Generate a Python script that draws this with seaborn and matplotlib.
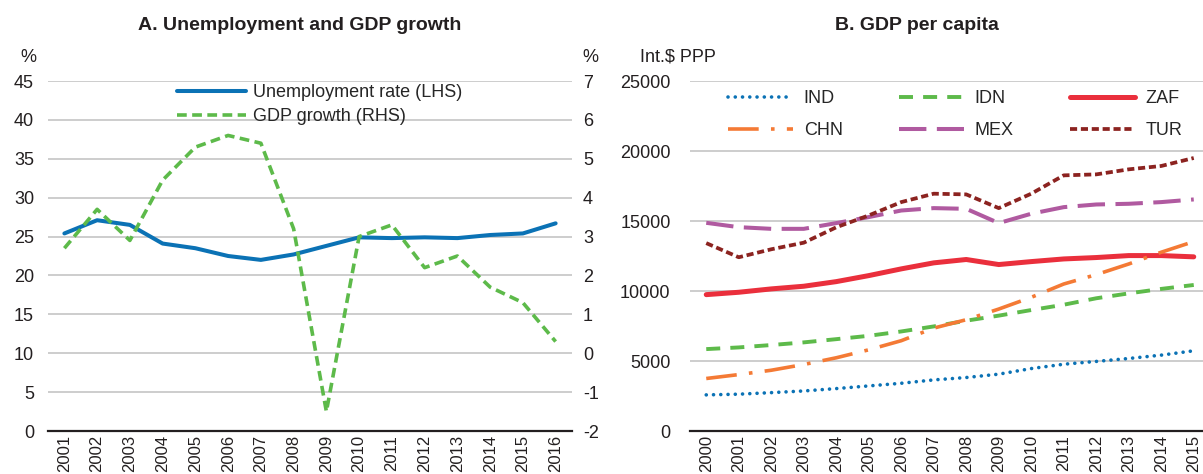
import numpy as np
import pandas as pd
import matplotlib
matplotlib.use("Agg")
import matplotlib.pyplot as plt
from matplotlib import font_manager
import seaborn as sns

# ---------------- data ----------------
years_a = [2001, 2002, 2003, 2004, 2005, 2006, 2007, 2008,
           2009, 2010, 2011, 2012, 2013, 2014, 2015, 2016]
unemployment = [25.4, 27.1, 26.5, 24.1, 23.5, 22.5, 22.0, 22.7,
                23.8, 24.9, 24.8, 24.9, 24.8, 25.2, 25.4, 26.7]
gdp_growth = [2.7, 3.7, 2.9, 4.45, 5.3, 5.6, 5.4, 3.2,
              -1.5, 3.0, 3.3, 2.2, 2.5, 1.7, 1.3, 0.3]

years_b = [2000, 2001, 2002, 2003, 2004, 2005, 2006, 2007,
           2008, 2009, 2010, 2011, 2012, 2013, 2014, 2015]
ind = [2580, 2630, 2740, 2860, 3030, 3220, 3410, 3650,
       3820, 4060, 4460, 4770, 4970, 5180, 5420, 5730]
idn = [5850, 5970, 6140, 6330, 6560, 6800, 7110, 7470,
       7880, 8240, 8640, 9020, 9480, 9830, 10150, 10430]
zaf = [9740, 9910, 10150, 10340, 10670, 11100, 11580, 12010,
       12250, 11890, 12100, 12290, 12390, 12530, 12530, 12440]
chn = [3750, 4030, 4340, 4750, 5230, 5800, 6450, 7350,
       7950, 8710, 9550, 10500, 11170, 11930, 12770, 13530]
mex = [14870, 14560, 14440, 14440, 14850, 15280, 15750, 15920,
       15870, 14850, 15520, 15990, 16180, 16230, 16350, 16540]
tur = [13420, 12410, 12980, 13450, 14550, 15400, 16350, 16950,
       16900, 15920, 16950, 18260, 18330, 18690, 18930, 19500]

labels_a = ["Unemployment rate (LHS)", "GDP growth (RHS)"]
countries = ["IND", "IDN", "ZAF", "CHN", "MEX", "TUR"]

# ---------------- style ----------------
sns.set_style("white")
avail = {f.name for f in font_manager.fontManager.ttflist}
family = [f for f in ["Liberation Sans Narrow", "Liberation Sans", "DejaVu Sans"] if f in avail]
plt.rcParams["font.family"] = family
plt.rcParams["axes.unicode_minus"] = False
FS = 13
TXT = "#231f20"
GRID = "#c9c9c9"

W, H = 1203, 474
fig = plt.figure(figsize=(W / 100, H / 100), dpi=100)


def rect(l, r, t, b):
    return [l / W, 1 - b / H, (r - l) / W, (b - t) / H]


def style_xaxis(ax, years):
    ax.set_xlim(years[0] - 0.5, years[-1] + 0.5)
    ax.set_xticks(years)
    ax.set_xticklabels([str(y) for y in years], rotation=90, fontsize=12, color=TXT)
    ax.set_xticks([y + 0.5 for y in years[:-1]] + [years[0] - 0.5], minor=True)
    ax.tick_params(axis="x", which="major", length=0, pad=3)
    ax.tick_params(axis="x", which="minor", direction="in", length=6,
                   width=1.5, color="#231f20")
    for s in ["left", "right", "top"]:
        ax.spines[s].set_visible(False)
    ax.spines["bottom"].set_color("#231f20")
    ax.spines["bottom"].set_linewidth(1.6)
    ax.set_xlabel("")
    ax.set_ylabel("")


# ---------------- panel A ----------------
axA = fig.add_axes(rect(48, 572, 81, 431))
dfA = pd.DataFrame({"year": years_a, "unemp": unemployment, "gdp": gdp_growth})
sns.lineplot(data=dfA, x="year", y="unemp", ax=axA, color="#0b72b5",
             lw=2.9, label=labels_a[0], legend=False)
axA.set_ylim(0, 45)
axA.set_yticks(np.arange(0, 46, 5))
axA.yaxis.grid(True, color=GRID, lw=1.3)
axA.set_axisbelow(True)
axA.tick_params(axis="y", length=0, pad=10, labelsize=FS, labelcolor=TXT)
style_xaxis(axA, years_a)

axA2 = axA.twinx()
sns.lineplot(data=dfA, x="year", y="gdp", ax=axA2, color="#5dba4a",
             lw=2.6, linestyle=(0, (2.7, 1.5)), label=labels_a[1], legend=False)
axA2.set_ylim(-2, 7)
axA2.set_yticks(np.arange(-2, 8, 1))
axA2.tick_params(axis="y", length=0, pad=8, labelsize=FS, labelcolor=TXT)
for s in ["left", "right", "top", "bottom"]:
    axA2.spines[s].set_visible(False)
axA2.set_ylabel("")
axA2.grid(False)

hA = axA.get_lines()[:1] + axA2.get_lines()[:1]
axA2.legend(hA, labels_a, loc="upper left", bbox_to_anchor=(177 / W, 1 - 84 / H),
            bbox_transform=fig.transFigure, frameon=False, fontsize=FS,
            handlelength=3.8, handletextpad=0.4, borderpad=0, borderaxespad=0,
            labelspacing=0.38)

fig.text(300 / W, 1 - 26 / H, "A. Unemployment and GDP growth", ha="center",
         va="center", fontsize=14, fontweight="bold", color=TXT)
fig.text(28 / W, 1 - 57 / H, "%", ha="center", va="center", fontsize=FS, color=TXT)
fig.text(590 / W, 1 - 57 / H, "%", ha="center", va="center", fontsize=FS, color=TXT)

# ---------------- panel B ----------------
axB = fig.add_axes(rect(690, 1210, 81, 431))
series = {"IND": ind, "IDN": idn, "ZAF": zaf, "CHN": chn, "MEX": mex, "TUR": tur}
styles = {
    "IND": dict(color="#0b72b5", lw=2.6, linestyle=(0, (0.01, 2.0)),
                dash_capstyle="round"),
    "IDN": dict(color="#5dba4a", lw=2.8, linestyle=(0, (3.6, 2.6))),
    "ZAF": dict(color="#ea2f3c", lw=3.6, linestyle="-"),
    "CHN": dict(color="#f47a35", lw=2.6, linestyle=(0, (8.5, 3.4, 1, 3.4))),
    "MEX": dict(color="#b05aa0", lw=2.9, linestyle=(0, (6.8, 2.6))),
    "TUR": dict(color="#8c2320", lw=2.7, linestyle=(0, (1.9, 1.0))),
}
lines = {}
for c in countries:
    dfc = pd.DataFrame({"year": years_b, "v": series[c]})
    sns.lineplot(data=dfc, x="year", y="v", ax=axB, label=c, legend=False, **styles[c])
    lines[c] = axB.get_lines()[-1]
axB.set_ylim(0, 25000)
axB.set_yticks(np.arange(0, 25001, 5000))
axB.yaxis.grid(True, color=GRID, lw=1.3)
axB.set_axisbelow(True)
axB.tick_params(axis="y", length=0, pad=14, labelsize=FS, labelcolor=TXT)
style_xaxis(axB, years_b)

# legend filled column-wise: rows IND IDN ZAF / CHN MEX TUR
order = ["IND", "CHN", "IDN", "MEX", "ZAF", "TUR"]
axB.legend([lines[c] for c in order], order, ncol=3, loc="upper left",
           bbox_to_anchor=(728 / W, 1 - 90 / H), bbox_transform=fig.transFigure,
           frameon=False, fontsize=FS, handlelength=3.6, handletextpad=0.6,
           columnspacing=3.1, borderpad=0, borderaxespad=0, labelspacing=0.85)

fig.text(917 / W, 1 - 26 / H, "B. GDP per capita", ha="center", va="center",
         fontsize=14, fontweight="bold", color=TXT)
fig.text(640 / W, 1 - 57 / H, "Int.$ PPP", ha="left", va="center", fontsize=FS, color=TXT)

fig.savefig("out.png", dpi=100)
